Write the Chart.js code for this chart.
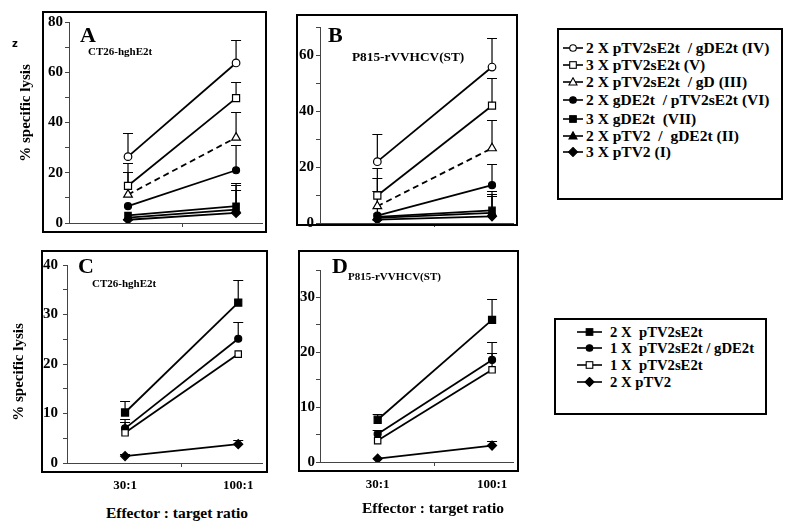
<!DOCTYPE html>
<html>
<head>
<meta charset="utf-8">
<script src="https://cdn.jsdelivr.net/npm/chart.js@4.4.0/dist/chart.umd.min.js"></script>
<style>
body { margin: 0; background: #fff; }
#page { position: relative; width: 795px; height: 528px; overflow: hidden;
  font-family: "Liberation Serif", "Times New Roman", serif; font-weight: bold; color: #000; }
canvas, .box, .txt, .row { position: absolute; }
.box { border: 2px solid #000; box-sizing: border-box; pointer-events: none; }
.txt { white-space: pre; line-height: 1; }
.row { height: 16px; display: flex; align-items: center; white-space: pre; }
.row svg { flex: none; }
.rot { transform: translate(-50%, -50%) rotate(-90deg); }
.ctr { transform: translate(-50%, -50%); }
</style>
</head>
<body>
<div id="page">
  <canvas id="cA" width="270" height="240" style="left:0;top:0"></canvas>
  <canvas id="cB" width="250" height="240" style="left:270px;top:0"></canvas>
  <canvas id="cC" width="270" height="262" style="left:0;top:240px"></canvas>
  <canvas id="cD" width="250" height="262" style="left:270px;top:240px"></canvas>

  <div class="box" style="left:42px;top:11px;width:225px;height:222px"></div>
  <div class="box" style="left:296px;top:14px;width:222px;height:212px"></div>
  <div class="box" style="left:41px;top:250px;width:227px;height:223px"></div>
  <div class="box" style="left:298px;top:250px;width:221px;height:222px"></div>
  <div class="box" style="left:557px;top:28px;width:226px;height:172px"></div>
  <div class="box" style="left:554px;top:318px;width:213px;height:97px"></div>

  <div class="txt" style="left:12px;top:38px;font:bold 10px 'DejaVu Sans'">z</div>
  <div class="txt" style="left:80px;top:24px;font-size:22px">A</div>
  <div class="txt" style="left:88px;top:46px;font-size:11px">CT26-hghE2t</div>
  <div class="txt" style="left:328px;top:24px;font-size:22px">B</div>
  <div class="txt" style="left:352px;top:50px;font-size:13.3px">P815-rVVHCV(ST)</div>
  <div class="txt" style="left:78px;top:255px;font-size:22px">C</div>
  <div class="txt" style="left:92px;top:278px;font-size:11px">CT26-hghE2t</div>
  <div class="txt" style="left:332px;top:255px;font-size:22px">D</div>
  <div class="txt" style="left:348px;top:271px;font-size:11px">P815-rVVHCV(ST)</div>

  <div class="txt rot" style="left:25px;top:113px;font-size:15px">% specific lysis</div>
  <div class="txt rot" style="left:18px;top:372px;font-size:15px">% specific lysis</div>
  <div class="txt ctr" style="left:177px;top:513px;font-size:15.5px">Effector : target ratio</div>
  <div class="txt ctr" style="left:433px;top:508px;font-size:15.5px">Effector : target ratio</div>
</div>
<script>
// effector : target ratios (x = 1, 2)
const ratios = ['30:1', '100:1'];

// panels A / B, seven immunisation groups
const groupsTop = ['2 X pTV2sE2t  / gDE2t (IV)', '3 X pTV2sE2t (V)', '2 X pTV2sE2t  / gD (III)',
  '2 X gDE2t  / pTV2sE2t (VI)', '3 X gDE2t  (VII)', '2 X pTV2  /  gDE2t (II)', '3 X pTV2 (I)'];

const a_IV = [26.4, 63.7],  a_IV_err = [36, 73];
const a_V = [14.8, 49.7],   a_V_err = [24, 56];
const a_III = [11.3, 34],   a_III_err = [20.4, 44];
const a_VI = [6.7, 21],     a_VI_err = [null, 31];
const a_VII = [3, 6.7],     a_VII_err = [null, 16];
const a_II = [2.1, 5.3],    a_II_err = [null, 15];
const a_I = [1.3, 4],       a_I_err = [null, 13];

const b_IV = [21.9, 55.7],  b_IV_err = [31.7, 65.9];
const b_V = [9.8, 41.9],    b_V_err = [19.8, 51.9];
const b_III = [6, 26.7],    b_III_err = [16, 36.9];
const b_VI = [2.6, 13.5],   b_VI_err = [11.6, 21];
const b_VII = [2.2, 4.5],   b_VII_err = [null, 11.4];
const b_II = [1.8, 3.6],    b_II_err = [null, 10.4];
const b_I = [1.2, 2.4],     b_I_err = [null, 9.6];

// panels C / D, four groups
const groupsBottom = ['2 X  pTV2sE2t', '1 X  pTV2sE2t / gDE2t', '1 X  pTV2sE2t', '2 X pTV2'];

const c_2x = [10.2, 32.4],    c_2x_err = [12.6, 37];
const c_1xgD = [7, 25.1],     c_1xgD_err = [8.8, 28.5];
const c_1x = [6.1, 22],       c_1x_err = [8.3, null];
const c_vec = [1.4, 3.8],     c_vec_err = [1.9, 4.6];

const d_2x = [7.7, 25.9],     d_2x_err = [8.8, 29.8];
const d_1xgD = [5.1, 18.6],   d_1xgD_err = [5.9, 21.8];
const d_1x = [3.9, 16.8],     d_1x_err = [null, 19.8];
const d_vec = [0.6, 3.0],     d_vec_err = [null, 3.8];

// upper error bars, drawn under the lines and markers
const errorBars = {
  id: 'errorBars',
  beforeDatasetsDraw(chart) {
    const ctx = chart.ctx;
    const ys = chart.scales.y;
    ctx.save();
    ctx.strokeStyle = '#000';
    ctx.lineWidth = 1.2;
    chart.data.datasets.forEach((ds, i) => {
      if (!ds.errUp) return;
      chart.getDatasetMeta(i).data.forEach((pt, j) => {
        const top = ds.errUp[j];
        if (top == null) return;
        const yTop = Math.round(ys.getPixelForValue(top)) + 0.5;
        ctx.beginPath();
        ctx.moveTo(pt.x, pt.y);
        ctx.lineTo(pt.x, yTop);
        ctx.moveTo(pt.x - 5, yTop);
        ctx.lineTo(pt.x + 5, yTop);
        ctx.stroke();
      });
    });
    ctx.restore();
  }
};

function series(vals, err, style, open, r, dash) {
  return {
    data: vals.map((v, i) => ({ x: i + 1, y: v })),
    errUp: err,
    borderColor: '#000',
    borderWidth: 1.8,
    borderDash: dash ? [6, 4] : [],
    pointStyle: style,
    pointRadius: r,
    pointBackgroundColor: open ? '#fff' : '#000',
    pointBorderColor: '#000',
    pointBorderWidth: 1.2,
    tension: 0
  };
}

function makePanel(id, sets, o) {
  const axisCol = '#444';
  return new Chart(document.getElementById(id), {
    type: 'line',
    data: { datasets: sets },
    options: {
      responsive: false,
      animation: false,
      layout: { padding: { top: o.top, right: o.right, left: 0, bottom: 0 } },
      plugins: { legend: { display: false }, tooltip: { enabled: false } },
      scales: {
        x: {
          type: 'linear', min: o.xMin, max: o.xMax,
          afterBuildTicks: s => { s.ticks = [{ value: 1 }, { value: 1.5 }, { value: 2 }]; },
          afterFit: s => { s.height = o.xH; },
          border: { color: axisCol, width: 1 },
          grid: { drawOnChartArea: false, tickLength: 4,
            color: c => (c.tick && c.tick.value === 1.5) ? axisCol : 'rgba(0,0,0,0)' },
          ticks: {
            display: o.xLabels, autoSkip: false, maxRotation: 0, padding: 11, color: '#000',
            font: { family: 'Liberation Serif', weight: 'bold', size: 13 },
            callback: v => v === 1 ? ratios[0] : (v === 2 ? ratios[1] : '')
          }
        },
        y: {
          min: 0, max: o.yMax,
          afterFit: s => { s.width = o.yW; },
          border: { color: axisCol, width: 1 },
          grid: { drawOnChartArea: false, tickLength: 4, color: axisCol },
          ticks: {
            stepSize: o.step, autoSkip: false, padding: o.yPad, color: '#000',
            font: { family: 'Liberation Serif', weight: 'bold', size: 15 },
            callback: v => v % o.every === 0 ? v : ''
          }
        }
      }
    },
    plugins: [errorBars]
  });
}

makePanel('cA', [
  series(a_I, a_I_err, 'rectRot', false, 4.5),
  series(a_II, a_II_err, 'triangle', false, 4.5),
  series(a_VII, a_VII_err, 'rect', false, 4.5),
  series(a_VI, a_VI_err, 'circle', false, 3.5),
  series(a_III, a_III_err, 'triangle', true, 5, true),
  series(a_V, a_V_err, 'rect', true, 5),
  series(a_IV, a_IV_err, 'circle', true, 3.8)
], { top: 22, right: 8, yW: 69, yPad: 2, xH: 17, xMin: 0.454, xMax: 2.24, xLabels: false, yMax: 80, step: 10, every: 20 });

makePanel('cB', [
  series(b_I, b_I_err, 'rectRot', false, 4.5),
  series(b_II, b_II_err, 'triangle', false, 4.5),
  series(b_VII, b_VII_err, 'rect', false, 4.5),
  series(b_VI, b_VI_err, 'circle', false, 3.5),
  series(b_III, b_III_err, 'triangle', true, 5, true),
  series(b_V, b_V_err, 'rect', true, 5),
  series(b_IV, b_IV_err, 'circle', true, 3.8)
], { top: 27, right: 4, yW: 50, yPad: 2, xH: 17, xMin: 0.5, xMax: 2.19, xLabels: false, yMax: 70, step: 10, every: 20 });

makePanel('cC', [
  series(c_vec, c_vec_err, 'rectRot', false, 4.5),
  series(c_1x, c_1x_err, 'rect', true, 4.5),
  series(c_1xgD, c_1xgD_err, 'circle', false, 3.5),
  series(c_2x, c_2x_err, 'rect', false, 5)
], { top: 25, right: 8, yW: 67, yPad: 5, xH: 39, xMin: 0.487, xMax: 2.21, xLabels: true, yMax: 40, step: 5, every: 10 });

makePanel('cD', [
  series(d_vec, d_vec_err, 'rectRot', false, 4.5),
  series(d_1x, d_1x_err, 'rect', true, 4.5),
  series(d_1xgD, d_1xgD_err, 'circle', false, 3.5),
  series(d_2x, d_2x_err, 'rect', false, 5)
], { top: 30, right: 2, yW: 50, yPad: 1, xH: 40, xMin: 0.496, xMax: 2.19, xLabels: true, yMax: 35, step: 5, every: 10 });

// legends: small line + marker, then the group name
function marker(shape, open, w) {
  const c = w / 2, fill = open ? '#fff' : '#000';
  let m = '';
  if (shape === 'circle') m = `<circle cx="${c}" cy="5" r="3.3"/>`;
  if (shape === 'rect') m = `<rect x="${c - 3.3}" y="1.7" width="6.6" height="6.6"/>`;
  if (shape === 'triangle') m = `<polygon points="${c},0.8 ${c + 4},8 ${c - 4},8"/>`;
  if (shape === 'rectRot') m = `<polygon points="${c},0.5 ${c + 4.5},5 ${c},9.5 ${c - 4.5},5"/>`;
  return `<svg width="${w}" height="10"><line x1="0" y1="5" x2="${w}" y2="5" stroke="#000" stroke-width="1.6"/>` +
    `<g fill="${fill}" stroke="#000" stroke-width="1.1">${m}</g></svg>`;
}

function legend(names, shapes, opens, left, ys, w, gap, size) {
  const page = document.getElementById('page');
  names.forEach((n, i) => {
    const row = document.createElement('div');
    row.className = 'row';
    row.style.left = left + 'px';
    row.style.top = (ys[i] - 8) + 'px';
    row.style.fontSize = size + 'px';
    row.innerHTML = marker(shapes[i], opens[i], w) + `<span style="margin-left:${gap}px">${n}</span>`;
    page.appendChild(row);
  });
}

legend(groupsTop,
  ['circle', 'rect', 'triangle', 'circle', 'rect', 'triangle', 'rectRot'],
  [true, true, true, false, false, false, false],
  563, [48, 65, 82, 100, 119, 136, 152], 20, 3, 15.5);

legend(groupsBottom,
  ['rect', 'circle', 'rect', 'rectRot'],
  [false, false, true, false],
  577, [332, 348, 365, 382], 25, 8, 14.7);
</script>
</body>
</html>
